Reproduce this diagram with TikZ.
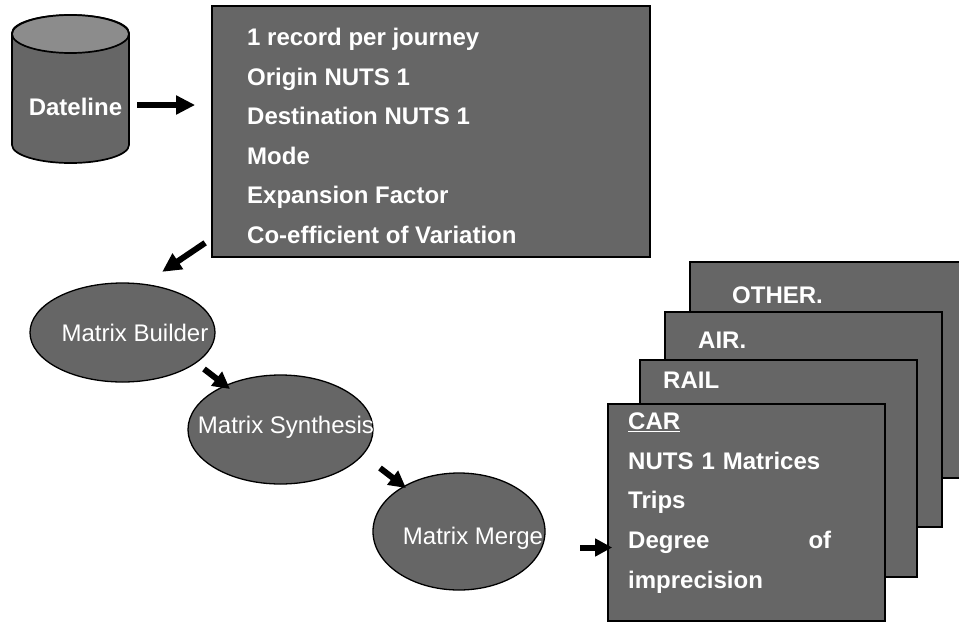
\documentclass[tikz,border=0pt]{standalone}
\usepackage{fontspec}
\setmainfont{Liberation Sans}
\usetikzlibrary{arrows.meta,shapes.geometric}
\definecolor{panelgrey}{HTML}{666666}
\definecolor{lidgrey}{HTML}{8C8C8C}
\begin{document}
\begin{tikzpicture}
	[x=1pt,y=-1pt,
		panel/.style={draw=black,line width=1.7pt,fill=panelgrey,rectangle,inner sep=0pt},
		blob/.style={draw=black,line width=1.3pt,fill=panelgrey,ellipse,inner sep=0pt},
		can/.style={draw=black,line width=1.7pt,fill=panelgrey},
		heading/.style={text=white,font=\fontsize{24}{39.6}\selectfont\bfseries,anchor=west,align=left,inner sep=0pt},
		blobtext/.style={text=white,font=\fontsize{24}{29}\selectfont,inner sep=0pt},
		flow/.style={-{Triangle[length=19pt,width=18pt]},line width=6pt,black},
		small flow/.style={-{Triangle[length=17pt,width=17pt]},line width=6pt,black}]
	\useasboundingbox (0,0) rectangle (959,622);
	% the can
	\node[inner sep=0pt,minimum width=117pt,minimum height=148pt] (dateline) at (70.5,89) {};
	\draw[can] (12,33) -- (12,145) arc[start angle=180,end angle=360,x radius=58.5pt,y radius=18pt] -- (129,33) arc[start angle=0,end angle=180,x radius=58.5pt,y radius=18pt] -- cycle;
	\draw[can,fill=lidgrey] (70.5,34) ellipse[x radius=58.5pt,y radius=19pt];
	\node[blobtext,font=\fontsize{24}{29}\selectfont\bfseries] (datelinetext) at (75.5,107) {Dateline};
	\node[panel,minimum width=438pt,minimum height=251pt] (journey) at (431,131.5) {};
	\node[heading] (journeytext) at (247,136) {1 record per journey\\Origin NUTS 1\\Destination NUTS 1\\Mode\\Expansion Factor\\Co-efficient of Variation};
	\node[blob,minimum width=185pt,minimum height=99pt] (builder) at (122.5,332.5) {};
	\node[blob,minimum width=185pt,minimum height=109pt] (synthesis) at (280.5,429.5) {};
	\node[blob,minimum width=172pt,minimum height=117pt] (merge) at (459,531.5) {};
	\node[blobtext] (buildertext) at (135,333) {Matrix Builder};
	\node[blobtext] (synthesistext) at (286,427) {Matrix Synthesis};
	\node[blobtext] (mergetext) at (473,538) {Matrix Merge};
	\node[panel,minimum width=280pt,minimum height=216pt] (other) at (830,370) {};
	\node[heading] (othertext) at (732,295) {OTHER.};
	\node[panel,minimum width=277pt,minimum height=215pt] (air) at (803.5,419.5) {};
	\node[heading] (airtext) at (698,340) {AIR.};
	\node[panel,minimum width=277pt,minimum height=217pt] (rail) at (778.5,468.5) {};
	\node[heading] (railtext) at (663,380) {RAIL};
	\node[panel,minimum width=277pt,minimum height=217pt] (car) at (746.5,512.5) {};
	\node[heading,text width=203pt] (cartext) at (628,503) {\underline{CAR}\\NUTS 1 Matrices\\Trips\\Degree \hfill of\\imprecision};
	\draw[flow] ([shift={(8,16)}]dateline.east) -- ([shift={(-16,-26.5)}]journey.west);
	\draw[flow] ([shift={(-6,-15)}]journey.south west) -- ([shift={(-49,14)}]journey.south west);
	\draw[small flow] ([shift={(81.5,36.5)}]builder.center) -- ([shift={(-50.5,-40.5)}]synthesis.center);
	\draw[small flow] ([shift={(99.5,38.5)}]synthesis.center) -- ([shift={(-53,-43.5)}]merge.center);
	\draw[small flow] ([shift={(-27,35)}]car.west) -- ([shift={(5,35)}]car.west);
\end{tikzpicture}
\end{document}
